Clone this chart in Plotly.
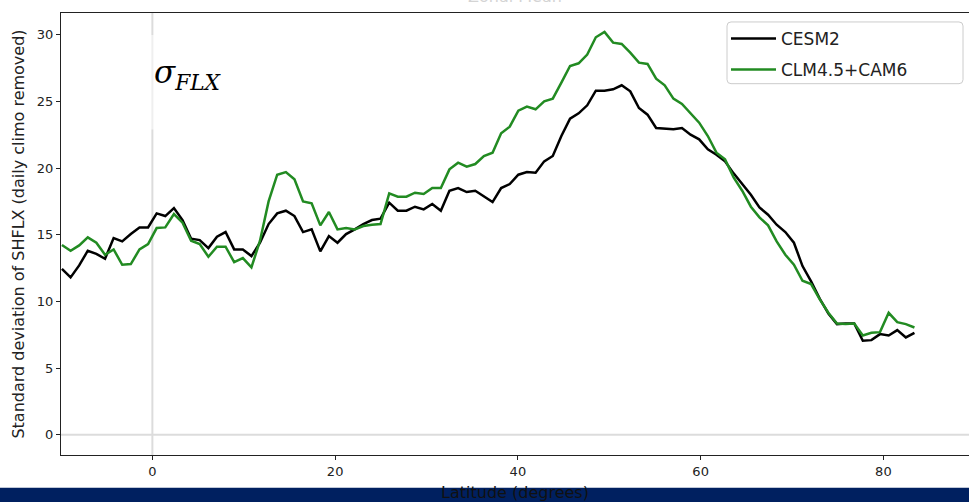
import plotly.graph_objects as go

# Latitude grid (degrees) of the model output
lat = [-9.90, -8.95, -8.01, -7.07, -6.13, -5.18, -4.24, -3.30, -2.36, -1.41,
       -0.47, 0.47, 1.41, 2.36, 3.30, 4.24, 5.18, 6.13, 7.07, 8.01,
       8.95, 9.90, 10.84, 11.78, 12.72, 13.66, 14.61, 15.55, 16.49, 17.43,
       18.38, 19.32, 20.26, 21.20, 22.15, 23.09, 24.03, 24.97, 25.92, 26.86,
       27.80, 28.74, 29.69, 30.63, 31.57, 32.51, 33.46, 34.40, 35.34, 36.28,
       37.23, 38.17, 39.11, 40.05, 40.99, 41.94, 42.88, 43.82, 44.76, 45.71,
       46.65, 47.59, 48.53, 49.48, 50.42, 51.36, 52.30, 53.25, 54.19, 55.13,
       56.07, 57.02, 57.96, 58.90, 59.84, 60.79, 61.73, 62.67, 63.61, 64.55,
       65.50, 66.44, 67.38, 68.32, 69.27, 70.21, 71.15, 72.09, 73.04, 73.98,
       74.92, 75.86, 76.81, 77.75, 78.69, 79.63, 80.58, 81.52, 82.46, 83.40]

cesm2 = [12.44, 11.8, 12.7, 13.8, 13.56, 13.2, 14.75, 14.5, 15.05, 15.55,
         15.55, 16.6, 16.4, 17.0, 16.1, 14.7, 14.6, 14.0, 14.85, 15.2,
         13.9, 13.9, 13.4, 14.4, 15.8, 16.6, 16.8, 16.4, 15.2, 15.4,
         13.75, 14.9, 14.4, 15.05, 15.4, 15.8, 16.1, 16.2, 17.4, 16.8,
         16.8, 17.1, 16.9, 17.3, 16.8, 18.3, 18.5, 18.2, 18.3, 17.9,
         17.45, 18.5, 18.8, 19.5, 19.7, 19.65, 20.5, 20.9, 22.4, 23.7,
         24.1, 24.7, 25.8, 25.8, 25.9, 26.2, 25.75, 24.5, 24.0, 23.0,
         22.95, 22.9, 23.0, 22.5, 22.15, 21.4, 21.0, 20.5, 19.6, 18.8,
         18.0, 17.05, 16.5, 15.75, 15.2, 14.4, 12.65, 11.5, 10.2, 9.1,
         8.3, 8.35, 8.35, 7.05, 7.1, 7.55, 7.45, 7.85, 7.3, 7.65]

clm45_cam6 = [14.23, 13.8, 14.2, 14.8, 14.4, 13.5, 13.9, 12.75, 12.8, 13.9,
              14.3, 15.5, 15.55, 16.55, 15.9, 14.55, 14.3, 13.35, 14.1, 14.1,
              12.95, 13.25, 12.55, 14.55, 17.5, 19.5, 19.7, 19.15, 17.5, 17.35,
              15.7, 16.7, 15.4, 15.5, 15.4, 15.65, 15.75, 15.8, 18.1, 17.85,
              17.85, 18.15, 18.05, 18.5, 18.5, 19.9, 20.4, 20.1, 20.3, 20.9,
              21.15, 22.6, 23.1, 24.3, 24.6, 24.4, 25.0, 25.2, 26.4, 27.65,
              27.85, 28.5, 29.8, 30.2, 29.4, 29.3, 28.65, 27.9, 27.8, 26.7,
              26.2, 25.2, 24.8, 24.1, 23.4, 22.4, 21.15, 20.65, 19.3, 18.3,
              17.1, 16.3, 15.7, 14.5, 13.5, 12.75, 11.55, 11.3, 10.15, 9.15,
              8.35, 8.3, 8.35, 7.45, 7.65, 7.7, 9.15, 8.45, 8.3, 8.05]

x_ticks = [0, 20, 40, 60, 80]
y_ticks = [0, 5, 10, 15, 20, 25, 30]

W, H = 969, 502
ML, MR, MT, MB = 61, 0, 13, 45
PW, PH = W - ML - MR, H - MT - MB


def px_x(px):
    return (px - ML) / PW


def px_y(py):
    return (H - MB - py) / PH


fig = go.Figure()
fig.add_trace(go.Scatter(x=lat, y=cesm2, mode="lines", name="CESM2",
                         legendgroup="a",
                         line=dict(color="black", width=2.5)))
fig.add_trace(go.Scatter(x=lat, y=clm45_cam6, mode="lines", name="CLM4.5+CAM6",
                         legendgroup="b",
                         line=dict(color="forestgreen", width=2.5)))

font_main = "DejaVu Sans"

fig.update_layout(
    width=W, height=H,
    margin=dict(l=ML, r=MR, t=MT, b=MB, pad=0),
    paper_bgcolor="white", plot_bgcolor="white",
    font=dict(family=font_main, size=13, color="#222222"),
    showlegend=True,
    legend=dict(x=px_x(726), y=px_y(21), xanchor="left", yanchor="top",
                bgcolor="rgba(0,0,0,0)", borderwidth=0, tracegroupgap=6,
                itemwidth=45,
                font=dict(family=font_main, size=17, color="#222222")),
    xaxis=dict(range=[-10, -10 + PW / 9.1375], tickvals=x_ticks,
               showgrid=False, zeroline=False, showline=True, mirror=True,
               linecolor="#222222", linewidth=1, ticks="outside", ticklen=4,
               tickcolor="#222222", tickfont=dict(size=13),
               title=dict(text="Latitude (degrees)", font=dict(size=16, color="#111111"),
                          standoff=12)),
    yaxis=dict(range=[-1.51, 31.62], tickvals=y_ticks,
               showgrid=False, zeroline=False, showline=True, mirror=False,
               linecolor="#222222", linewidth=1, ticks="outside", ticklen=4,
               tickcolor="#222222", tickfont=dict(size=13),
               title=dict(text="Standard deviation of SHFLX (daily climo removed)",
                          font=dict(size=16, color="#222222"), standoff=8)),
)

# reference lines
fig.add_shape(type="line", xref="x", yref="paper", x0=0, x1=0, y0=0, y1=1,
              line=dict(color="#dcdcdc", width=2), layer="below")
fig.add_shape(type="line", xref="paper", yref="y", x0=0, x1=1, y0=0, y1=0,
              line=dict(color="#dcdcdc", width=2), layer="below")
# translucent box behind the sigma label
fig.add_shape(type="rect", xref="paper", yref="paper",
              x0=px_x(140), x1=px_x(240), y0=px_y(130), y1=px_y(35),
              fillcolor="rgba(255,255,255,0.55)", line=dict(width=0), layer="above")
# legend frame (rounded)
lx0, lx1, ly0, ly1, r = px_x(727), px_x(963), px_y(84), px_y(22), 4
rx, ry = r / PW, r / PH
frame = (f"M {lx0+rx},{ly1} L {lx1-rx},{ly1} Q {lx1},{ly1} {lx1},{ly1-ry} "
         f"L {lx1},{ly0+ry} Q {lx1},{ly0} {lx1-rx},{ly0} L {lx0+rx},{ly0} "
         f"Q {lx0},{ly0} {lx0},{ly0+ry} L {lx0},{ly1-ry} Q {lx0},{ly1} {lx0+rx},{ly1} Z")
fig.add_shape(type="path", xref="paper", yref="paper", path=frame,
              fillcolor="rgba(255,255,255,0.8)", line=dict(color="#cccccc", width=1),
              layer="above")
# bottom navy band
fig.add_shape(type="rect", xref="paper", yref="paper",
              x0=px_x(-5), x1=px_x(W + 5), y0=px_y(H + 5), y1=px_y(490),
              fillcolor="#002060", line=dict(width=0), layer="below")

fig.add_annotation(x=0, y=27.0, xref="x", yref="y", xanchor="left", yanchor="middle",
                   text="<i>σ<sub>FLX</sub></i>", showarrow=False,
                   font=dict(family="DejaVu Serif", size=31, color="black"))
fig.add_annotation(x=px_x(515), y=px_y(8), xref="paper", yref="paper",
                   xanchor="center", yanchor="bottom", text="Zonal Mean",
                   showarrow=False, font=dict(size=16, color="#d4d4d4"))

fig.write_html("out.html",
               config={"displayModeBar": False},
               post_script="document.body.style.margin='0';"
                           "document.body.style.overflow='hidden';")
